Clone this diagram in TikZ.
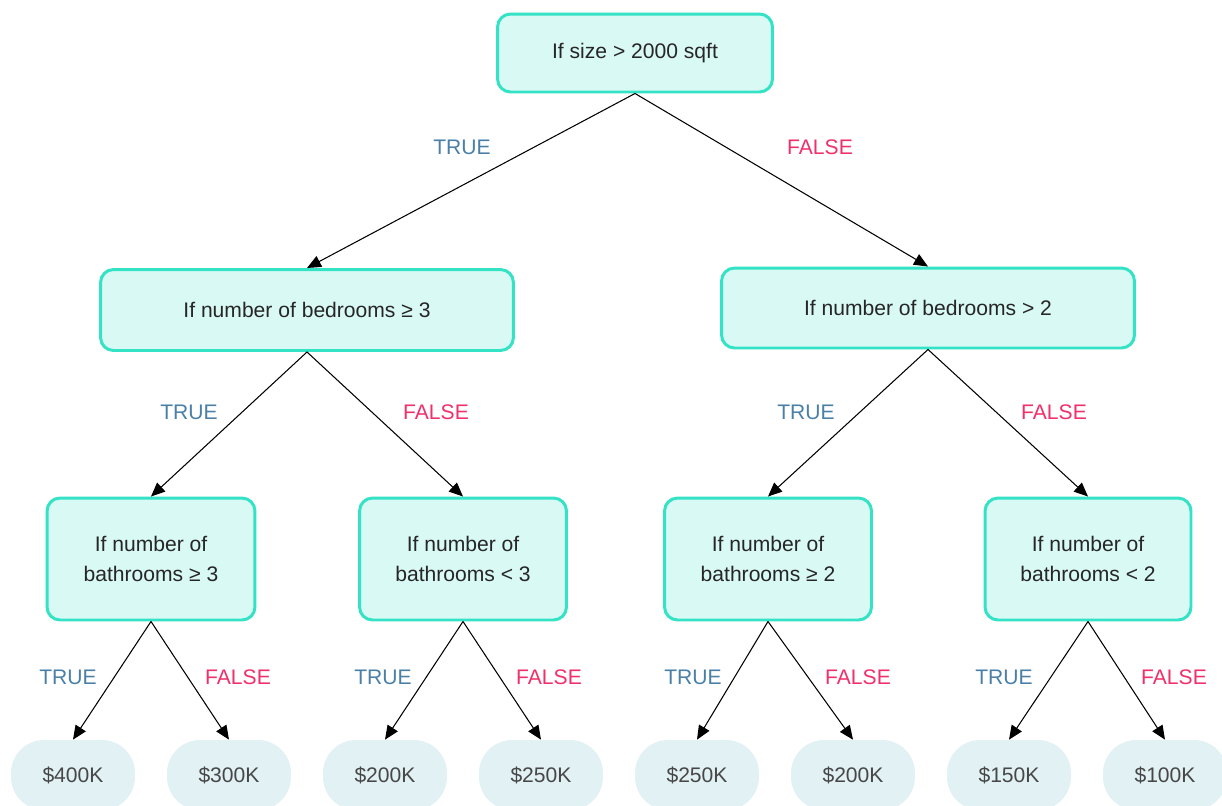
\documentclass[tikz,border=0pt]{standalone}
\usepackage{fontspec}
\setmainfont{Liberation Sans}
\usepackage{tikz}
\usetikzlibrary{arrows.meta,positioning}
\definecolor{boxfill}{HTML}{D9F9F4}
\definecolor{boxline}{HTML}{34E3C6}
\definecolor{leaffill}{HTML}{E2F1F4}
\definecolor{truecol}{HTML}{4A80A8}
\definecolor{falsecol}{HTML}{F0306A}

\begin{document}
\begin{tikzpicture}[x=0.02cm, y=-0.02cm, font=\fontsize{12}{17}\selectfont,
    test/.style={draw=boxline, line width=1.7pt, fill=boxfill, rounded corners=0.26cm, align=center, text=black!85},
    leaf/.style={fill=leaffill, rounded corners=0.66cm, minimum width=2.48cm, minimum height=1.4cm, text=black!72},
    yes/.style={text=truecol},
    no/.style={text=falsecol}]
   \useasboundingbox (0,0) rectangle (1222,805);
   \clip (0,0) rectangle (1222,805);
   % tests
   \begin{scope}[every node/.style={test}]
    \node (r) [minimum width=5.5cm, minimum height=1.56cm] at (635,53) {If size > 2000 sqft};
    \node (b1) [minimum width=8.26cm, minimum height=1.62cm] at (307,310) {If number of bedrooms ≥ 3};
    \node (b2) [minimum width=8.26cm, minimum height=1.6cm] at (928,308) {If number of bedrooms > 2};
    \node (t1) [minimum width=4.16cm, minimum height=2.44cm] at (151,559) {If number of\\bathrooms ≥ 3};
    \node (t2) [minimum width=4.14cm, minimum height=2.44cm] at (463,559) {If number of\\bathrooms < 3};
    \node (t3) [minimum width=4.14cm, minimum height=2.44cm] at (768,559) {If number of\\bathrooms ≥ 2};
    \node (t4) [minimum width=4.12cm, minimum height=2.44cm] at (1088,559) {If number of\\bathrooms < 2};
   \end{scope}
   % prices
   \begin{scope}[every node/.style={leaf}]
    \node (p1) at (73,775) {\$400K};
    \node (p2) at (229,775) {\$300K};
    \node (p3) at (385,775) {\$200K};
    \node (p4) at (541,775) {\$250K};
    \node (p5) at (697,775) {\$250K};
    \node (p6) at (853,775) {\$200K};
    \node (p7) at (1009,775) {\$150K};
    \node (p8) at (1165,775) {\$100K};
   \end{scope}
   \begin{scope}[every edge/.style={draw=black, line width=0.6pt, -{Triangle[length=0.28cm,width=0.24cm]}}]
    \path (r.south) edge (b1.north);
    \path (r.south) edge (b2.north);
    \path (b1.south) edge (t1.north);
    \path (b1.south) edge (t2.north);
    \path (b2.south) edge (t3.north);
    \path (b2.south) edge (t4.north);
    \path (t1.south) edge (p1.north);
    \path (t1.south) edge (p2.north);
    \path (t2.south) edge (p3.north);
    \path (t2.south) edge (p4.north);
    \path (t3.south) edge (p5.north);
    \path (t3.south) edge (p6.north);
    \path (t4.south) edge (p7.north);
    \path (t4.south) edge (p8.north);
   \end{scope}
   % branch labels
   \node (y0) [yes] at (462,147) {TRUE};
   \node (n0) [no] at (820,147) {FALSE};
   \node (y1) [yes] at (189,412) {TRUE};
   \node (n1) [no] at (436,412) {FALSE};
   \node (y2) [yes] at (806,412) {TRUE};
   \node (n2) [no] at (1054,412) {FALSE};
   \node (y3) [yes] at (68,677) {TRUE};
   \node (n3) [no] at (238,677) {FALSE};
   \node (y4) [yes] at (383,677) {TRUE};
   \node (n4) [no] at (549,677) {FALSE};
   \node (y5) [yes] at (693,677) {TRUE};
   \node (n5) [no] at (858,677) {FALSE};
   \node (y6) [yes] at (1004,677) {TRUE};
   \node (n6) [no] at (1174,677) {FALSE};
\end{tikzpicture}
\end{document}
